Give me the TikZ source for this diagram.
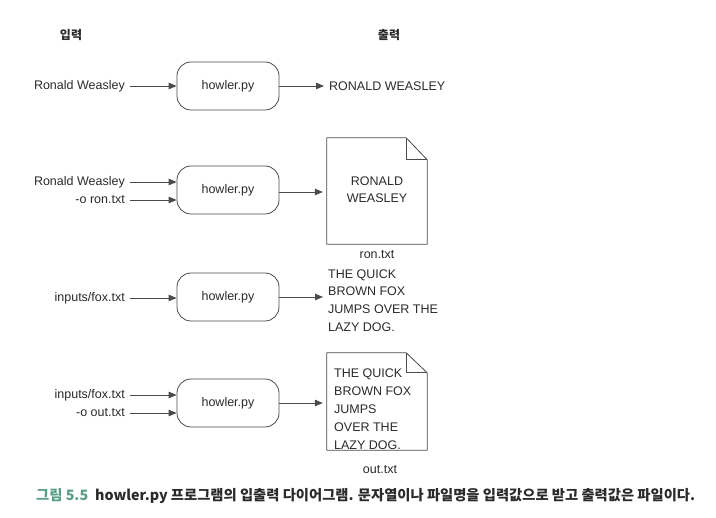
\documentclass[tikz,border=0pt]{standalone}
\usepackage{fontspec}
\setmainfont{Liberation Sans}
\newfontfamily\krfont{Noto Sans CJK KR}
\usetikzlibrary{arrows.meta}
\definecolor{linec}{HTML}{4A4A4A}
\definecolor{textc}{HTML}{2A2A2A}
\definecolor{capgreen}{HTML}{5A9E86}
\tikzset{
  lbl/.style={font=\fontsize{12.5}{15}\selectfont, text=textc, inner sep=2pt},
  hdr/.style={font=\krfont\bfseries\fontsize{12}{14}\selectfont, text=textc},
  prog/.style={draw=linec, line width=0.8pt, rounded corners=14pt, minimum width=102pt, minimum height=48pt, font=\fontsize{12.5}{15}\selectfont, text=textc},
  arr/.style={draw=linec, line width=0.8pt, -{Triangle[length=8pt,width=6.5pt]}},
  docbox/.style={minimum width=100pt, inner sep=0pt},
  docline/.style={draw=linec, line width=0.8pt, line join=round},
}
\begin{document}
\begin{tikzpicture}[x=1pt,y=-1pt]
\useasboundingbox (0,0) rectangle (716,518);
% headers
\node[hdr] (hin) at (71,35) {입력};
\node[hdr] (hout) at (389,35) {출력};
% row 1
\node[lbl, anchor=east] (in1) at (127,86) {Ronald Weasley};
\node[prog] (box1) at (228,86) {howler.py};
\node[lbl, anchor=west] (out1) at (327,86) {RONALD WEASLEY};
\draw[arr] (in1.east) ++(3,0) -- (in1.east -| box1.west);
\draw[arr] (box1.east) -- ([xshift=-3pt]box1.east -| out1.west);
% row 2
\node[lbl, anchor=east] (in2a) at (127,182) {Ronald Weasley};
\node[lbl, anchor=east] (in2b) at (127,200) {-o ron.txt};
\node[prog] (box2) at (228,190) {howler.py};
\node[docbox, minimum height=106pt] (doc2) at (377,191) {};
\node[lbl, align=center, font=\fontsize{12.5}{17}\selectfont] (txt2) at (377,190) {RONALD\\WEASLEY};
\node[lbl] (name2) at (377,255) {ron.txt};
\draw[docline] (doc2.south west) -- (doc2.north west) -- ([xshift=-21pt]doc2.north east) -- ([yshift=-22pt]doc2.north east) -- (doc2.south east) -- cycle;
\draw[docline] ([xshift=-21pt]doc2.north east) -- ([xshift=-21pt,yshift=-22pt]doc2.north east) -- ([yshift=-22pt]doc2.north east);
\draw[arr] (in2a.east) ++(3,0) -- (in2a.east -| box2.west);
\draw[arr] (in2b.east) ++(3,0) -- (in2b.east -| box2.west);
\draw[arr] ([yshift=-2pt]box2.east) -- ([yshift=-2pt,xshift=-4pt]box2.east -| doc2.west);
% row 3
\node[lbl, anchor=east] (in3) at (127,298) {inputs/fox.txt};
\node[prog] (box3) at (228,297) {howler.py};
\node[lbl, anchor=west, align=left, font=\fontsize{12.5}{17.7}\selectfont] (out3) at (326,300.5) {THE QUICK\\BROWN FOX\\JUMPS OVER THE\\LAZY DOG.};
\draw[arr] (in3.east) ++(3,0) -- (in3.east -| box3.west);
\draw[arr] (box3.east) -- ([xshift=-3pt]box3.east -| out3.west);
% row 4
\node[lbl, anchor=east] (in4a) at (127,395) {inputs/fox.txt};
\node[lbl, anchor=east] (in4b) at (127,413) {-o out.txt};
\node[prog] (box4) at (228,403) {howler.py};
\node[docbox, minimum height=97pt] (doc4) at (377,401.5) {};
\node[lbl, anchor=west, align=left, font=\fontsize{12.5}{18}\selectfont] (txt4) at (332,409) {THE QUICK\\BROWN FOX\\JUMPS\\OVER THE\\LAZY DOG.};
\node[lbl] (name4) at (380,470) {out.txt};
\draw[docline] (doc4.south west) -- (doc4.north west) -- ([xshift=-21pt]doc4.north east) -- ([yshift=-20pt]doc4.north east) -- (doc4.south east) -- cycle;
\draw[docline] ([xshift=-21pt]doc4.north east) -- ([xshift=-21pt,yshift=-20pt]doc4.north east) -- ([yshift=-20pt]doc4.north east);
\draw[arr] (in4a.east) ++(3,0) -- (in4a.east -| box4.west);
\draw[arr] (in4b.east) ++(3,0) -- (in4b.east -| box4.west);
\draw[arr] (box4.east) -- ([xshift=-4pt]box4.east -| doc4.west);
% caption
\node[anchor=west, inner sep=0pt, font=\krfont\bfseries\fontsize{14.3}{17}\selectfont, text=textc] (cap) at (36,496) {\textcolor{capgreen}{그림 5.5}\hspace{7pt}howler.py 프로그램의 입출력 다이어그램. 문자열이나 파일명을 입력값으로 받고 출력값은 파일이다.};
\end{tikzpicture}
\end{document}
